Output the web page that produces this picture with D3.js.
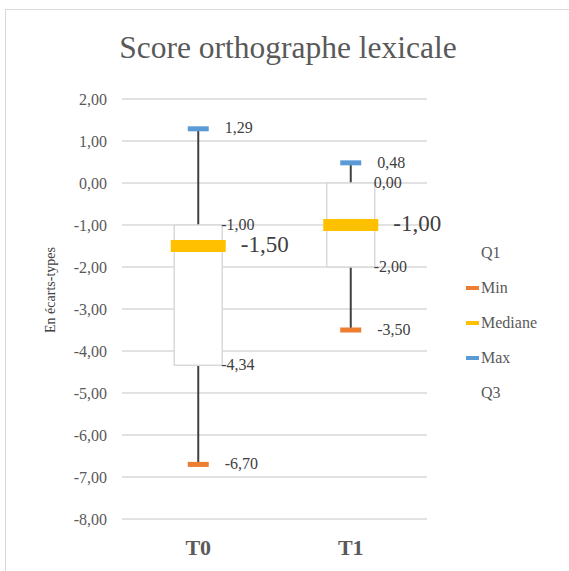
<!DOCTYPE html>
<html>
<head>
<meta charset="utf-8">
<script src="https://cdn.jsdelivr.net/npm/d3@7"></script>
<style>
  body { margin: 0; background: #fff; }
</style>
</head>
<body>
<svg id="chart" width="569" height="571"></svg>
<script>
// données
var categories = ["T0", "T1"];
var minVals = [-6.70, -3.50];
var q1Vals = [-4.34, -2.00];
var medVals = [-1.50, -1.00];
var q3Vals = [-1.00, 0.00];
var maxVals = [1.29, 0.48];
var yTicks = [2, 1, 0, -1, -2, -3, -4, -5, -6, -7, -8];
var legendItems = [
  {name: "Q1", color: null},
  {name: "Min", color: "#ED7D31"},
  {name: "Mediane", color: "#FFC000"},
  {name: "Max", color: "#5B9BD5"},
  {name: "Q3", color: null}
];

var data = categories.map(function(c, i) {
  return {cat: c, min: minVals[i], q1: q1Vals[i], med: medVals[i], q3: q3Vals[i], max: maxVals[i]};
});

var FONT = "'Liberation Serif', 'Times New Roman', serif";
var svg = d3.select("#chart");
var margin = {top: 99, left: 122, right: 142, bottom: 52};
var width = 569 - margin.left - margin.right,
    height = 571 - margin.top - margin.bottom;

var fmt = function(v) { return d3.format(".2f")(v).replace(".", ",").replace("−", "-"); };

// cadre du graphique
svg.append("rect")
  .attr("x", 5.5).attr("y", 9.5)
  .attr("width", 700).attr("height", 700)
  .attr("fill", "none").attr("stroke", "#d9d9d9").attr("stroke-width", 1);

// titre
svg.append("text")
  .attr("x", 288).attr("y", 58)
  .attr("text-anchor", "middle")
  .style("font-family", FONT)
  .style("font-size", "31.5px").style("fill", "#595959")
  .text("Score orthographe lexicale");

var xScale = d3.scaleBand().domain(categories).range([margin.left, margin.left + width]);
var yScale = d3.scaleLinear().domain([-8, 2]).range([margin.top + height, margin.top]);

// grille
svg.append("g").selectAll("line")
  .data(yTicks).enter().append("line")
  .attr("x1", margin.left).attr("x2", margin.left + width)
  .attr("y1", d => yScale(d)).attr("y2", d => yScale(d))
  .attr("stroke", "#d9d9d9").attr("stroke-width", 1.5);

// axe ordonnée
var yAxis = svg.append("g")
  .attr("transform", `translate(${margin.left}, 0)`)
  .call(d3.axisLeft(yScale).tickValues(yTicks).tickFormat(fmt).tickSize(0).tickPadding(15));
yAxis.select(".domain").remove();
yAxis.selectAll("text").style("font-family", FONT).style("font-size", "16px").style("fill", "#595959");

// axe abscisse
var xAxis = svg.append("g")
  .attr("transform", `translate(0, ${margin.top + height})`)
  .call(d3.axisBottom(xScale).tickSize(0).tickPadding(20));
xAxis.select(".domain").remove();
xAxis.selectAll("text").style("font-family", FONT).style("font-size", "22px").style("font-weight", "bold")
  .style("fill", "#595959");

// titre de l'ordonnée
svg.append("text")
  .attr("transform", "translate(55, 290) rotate(-90)")
  .attr("text-anchor", "middle")
  .style("font-family", FONT)
  .style("font-size", "14px").style("fill", "#404040")
  .text("En écarts-types");

var cx = d => xScale(d.cat) + xScale.bandwidth() / 2;
var boxW = 48, medW = 55, capW = 21;

var g = svg.append("g").selectAll("g").data(data).enter().append("g");

// moustaches
g.append("line")
  .attr("x1", cx).attr("x2", cx)
  .attr("y1", d => yScale(d.max)).attr("y2", d => yScale(d.q3))
  .attr("stroke", "#404040").attr("stroke-width", 2);
g.append("line")
  .attr("x1", cx).attr("x2", cx)
  .attr("y1", d => yScale(d.q1)).attr("y2", d => yScale(d.min))
  .attr("stroke", "#404040").attr("stroke-width", 2);

// boîtes
g.append("rect")
  .attr("x", d => cx(d) - boxW / 2).attr("width", boxW)
  .attr("y", d => yScale(d.q3)).attr("height", d => yScale(d.q1) - yScale(d.q3))
  .attr("fill", "#fff").attr("stroke", "#d9d9d9").attr("stroke-width", 1.5);

// médiane
g.append("rect")
  .attr("x", d => cx(d) - medW / 2).attr("width", medW)
  .attr("y", d => yScale(d.med) - 6).attr("height", 12)
  .attr("fill", "#FFC000");

// min et max
g.append("rect")
  .attr("x", d => cx(d) - capW / 2).attr("width", capW)
  .attr("y", d => yScale(d.max) - 2.5).attr("height", 5)
  .attr("fill", "#5B9BD5");
g.append("rect")
  .attr("x", d => cx(d) - capW / 2).attr("width", capW)
  .attr("y", d => yScale(d.min) - 2.5).attr("height", 5)
  .attr("fill", "#ED7D31");

// étiquettes
function label(sel, key, dx, size) {
  sel.append("text")
    .attr("x", d => cx(d) + dx).attr("y", d => yScale(d[key]) + 1)
    .attr("dominant-baseline", "middle")
    .style("font-family", FONT)
    .style("font-size", size).style("fill", "#404040")
    .text(d => fmt(d[key]));
}
label(g, "max", capW / 2 + 16, "16px");
label(g, "min", capW / 2 + 16, "16px");
label(g, "q3", boxW / 2 - 1, "16px");
label(g, "q1", boxW / 2 - 1, "16px");
label(g, "med", medW / 2 + 15, "23px");

// légende
var leg = svg.append("g").selectAll("g").data(legendItems).enter().append("g")
  .attr("transform", (d, i) => `translate(466, ${253 + i * 35})`);
leg.filter(d => d.color).append("rect")
  .attr("x", 0).attr("y", -2).attr("width", 13).attr("height", 4)
  .attr("fill", d => d.color);
leg.append("text")
  .attr("x", 15).attr("y", 1)
  .attr("dominant-baseline", "middle")
  .style("font-family", FONT)
  .style("font-size", "16px").style("fill", "#595959")
  .text(d => d.name);
</script>
</body>
</html>
